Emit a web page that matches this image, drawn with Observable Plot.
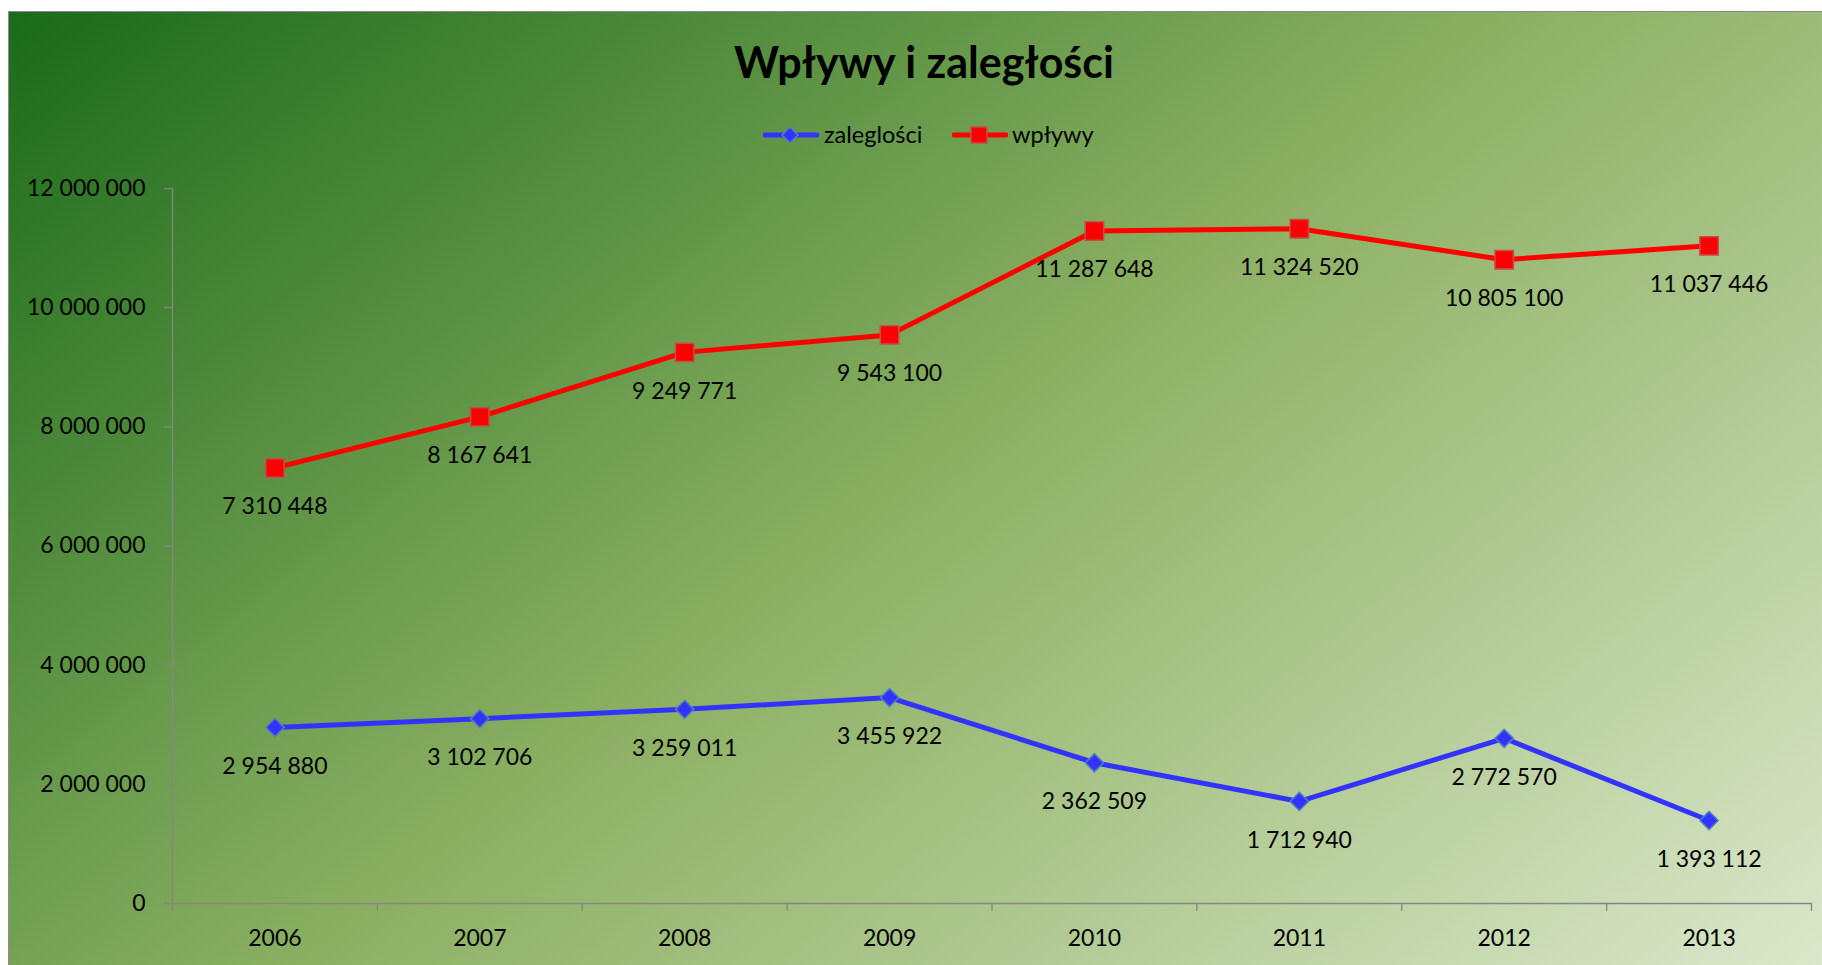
<!DOCTYPE html>
<html>
<head>
<meta charset="utf-8">
<script src="https://cdn.jsdelivr.net/npm/d3@7"></script>
<script src="https://cdn.jsdelivr.net/npm/@observablehq/plot@0.6"></script>
<style>
  html, body { margin: 0; padding: 0; background: #ffffff; overflow: hidden; width: 1822px; height: 965px; }
  #chart {
    position: absolute; left: 8px; top: 11px; width: 1814px; height: 954px; overflow: hidden;
    background: linear-gradient(141.8deg, #1a6b1a 0%, #8cb062 50%, #dae7ca 100%);
    box-shadow: inset 1px 1px 0 #8c8c8c;
    font-family: Lato, "Open Sans", sans-serif;
  }
  #title { position: absolute; left: 916px; top: 29px; transform: translateX(-50%); font-size: 43px; font-weight: 700; line-height: 1; white-space: nowrap; color: #000; }
  .leg-sw { position: absolute; }
  .leg-tx { position: absolute; top: 112px; font-size: 23.5px; line-height: 1; color: #000; white-space: nowrap; }
  #plot { position: absolute; left: 0; top: 129px; }
</style>
</head>
<body>
<div id="chart">
  <div id="title">Wpływy i zaległości</div>
  <svg class="leg-sw" style="left:755px; top:114px" width="56" height="20">
    <line x1="2" x2="54" y1="10" y2="10" stroke="#3333ff" stroke-width="5" stroke-linecap="round"/>
    <path d="M27,2 L35,10 L27,18 L19,10 Z" fill="#3333ff" stroke="#4f81bd" stroke-width="1.5"/>
  </svg>
  <div class="leg-tx" style="left:816px">zaleglości</div>
  <svg class="leg-sw" style="left:944px; top:114px" width="56" height="20">
    <line x1="2" x2="54" y1="10" y2="10" stroke="#ff0000" stroke-width="5" stroke-linecap="round"/>
    <rect x="19" y="2" width="16" height="16" fill="#ff0000" stroke="#c0504d" stroke-width="1.5"/>
  </svg>
  <div class="leg-tx" style="left:1004px">wpływy</div>
  <div id="plot"></div>
</div>
<script>
const years = [2006, 2007, 2008, 2009, 2010, 2011, 2012, 2013];
const zaleglosci = [2954880, 3102706, 3259011, 3455922, 2362509, 1712940, 2772570, 1393112];
const wplywy = [7310448, 8167641, 9249771, 9543100, 11287648, 11324520, 10805100, 11037446];
const yTicks = [0, 2000000, 4000000, 6000000, 8000000, 10000000, 12000000];
const seriesNames = ["zaleglości", "wpływy"];

const fmt = v => d3.format(",")(v).replace(/,/g, " ");
const rows = [];
years.forEach((yr, i) => {
  rows.push({year: yr, value: zaleglosci[i], series: seriesNames[0]});
  rows.push({year: yr, value: wplywy[i], series: seriesNames[1]});
});
const zRows = rows.filter(d => d.series === seriesNames[0]);
const wRows = rows.filter(d => d.series === seriesNames[1]);
const xDomain = [years[0] - 0.5, years[years.length - 1] + 0.5];
const boundaries = years.map(y => y - 0.5).concat([xDomain[1]]);
const axisColor = "#868686";

const chart = Plot.plot({
  width: 1814,
  height: 825,
  marginLeft: 164,
  marginRight: 11,
  marginTop: 48,
  marginBottom: 62,
  style: {fontFamily: "Lato, 'Open Sans', sans-serif", fontSize: "23px", background: "transparent", color: "black", overflow: "visible"},
  x: {type: "linear", domain: xDomain, label: null},
  y: {domain: [0, yTicks[yTicks.length - 1]], label: null},
  marks: [
    Plot.ruleX([xDomain[0]], {y1: yTicks[0], y2: yTicks[yTicks.length - 1], stroke: axisColor, strokeWidth: 1.3}),
    Plot.ruleY([0], {stroke: axisColor, strokeWidth: 1.3}),
    Plot.axisY(yTicks, {tickSize: 8, tickPadding: 19, tickFormat: fmt, stroke: axisColor, strokeWidth: 1.3, fill: "black", fontSize: 23, label: null}),
    Plot.axisX(boundaries, {tickSize: 8, tickFormat: () => "", stroke: axisColor, strokeWidth: 1.3, label: null}),
    Plot.axisX(years, {tickSize: 0, tickPadding: 26, tickFormat: d => String(d), fill: "black", fontSize: 23, label: null}),
    Plot.line(zRows, {x: "year", y: "value", stroke: "#3333ff", strokeWidth: 5}),
    Plot.line(wRows, {x: "year", y: "value", stroke: "#ff0000", strokeWidth: 5}),
    Plot.dot(zRows, {x: "year", y: "value", symbol: "diamond2", r: 8.2, fill: "#3333ff", stroke: "#4f81bd", strokeWidth: 1.5}),
    Plot.dot(wRows, {x: "year", y: "value", symbol: "square", r: 10.4, fill: "#ff0000", stroke: "#c0504d", strokeWidth: 1.5}),
    Plot.text(rows, {x: "year", y: "value", text: d => fmt(d.value), dy: 39, fill: "black", fontSize: 23})
  ]
});
document.getElementById("plot").appendChild(chart);
</script>
</body>
</html>
